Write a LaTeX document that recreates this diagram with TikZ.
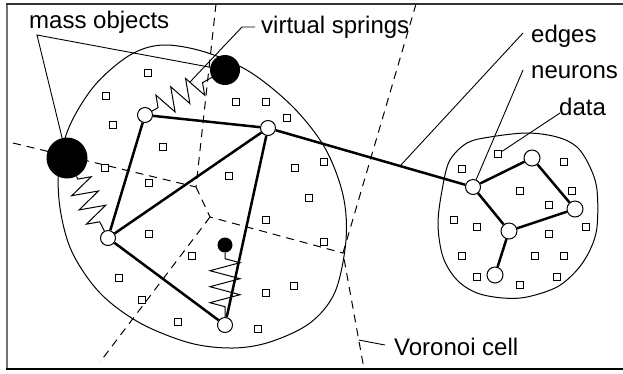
\documentclass[tikz,border=0pt]{standalone}
\usepackage{fontspec}
\setmainfont{Liberation Sans}
\usetikzlibrary{decorations.pathmorphing,calc}
\pgfdeclarelayer{back}
\pgfsetlayers{back,main}
\begin{document}
\begin{tikzpicture}[x=1pt,y=-1pt,
  outline/.style={line width=1pt},
  voronoi/.style={line width=1pt, dash pattern=on 8pt off 6pt},
  datum/.style={draw, line width=0.9pt, fill=white, minimum size=7.5pt, inner sep=0pt},
  neuron/.style={circle, draw, line width=1pt, fill=white, minimum size=15pt, inner sep=0pt},
  mass/.style={circle, fill=black, inner sep=0pt},
  edge/.style={line width=2.5pt},
  leader/.style={line width=0.9pt},
  spring/.style={line width=1pt, decorate, decoration={zigzag, #1}},
  lbl/.style={anchor=base west, inner sep=0pt, font=\fontsize{24}{28}\selectfont}
]
\useasboundingbox (0,0) rectangle (623,373);

% frame (open on the right)
\draw[black!55, line width=2pt] (7,4) -- (7,369);
\draw[black!80, line width=1.4pt] (6,4) -- (623,4);
\draw[line width=1.4pt] (6,369) -- (623,369);

% neurons
\node[neuron] (n1) at (145,115) {};
\node[neuron] (n2) at (268,128) {};
\node[neuron] (n3) at (108,238) {};
\node[neuron] (n4) at (225,325) {};
\node[neuron] (r1) at (473,187) {};
\node[neuron, minimum size=16pt] (r2) at (532,158) {};
\node[neuron, minimum size=16pt] (r3) at (575,209) {};
\node[neuron, minimum size=16pt] (r4) at (509,231) {};
\node[neuron, minimum size=16pt] (r5) at (495,275) {};

% mass objects
\node[mass, minimum size=41pt] (m1) at (67,158) {};
\node[mass, minimum size=30pt] (m2) at (225,70) {};
\node[mass, minimum size=15pt] (m3) at (225,245) {};

% labels
\node[lbl] (tmass) at (29,28) {mass objects};
\node[lbl] (tspring) at (261,33) {virtual springs};
\node[lbl] (tedges) at (531,42) {edges};
\node[lbl] (tneurons) at (531,78) {neurons};
\node[lbl] (tdata) at (559,115) {data};
\node[lbl] (tvoronoi) at (394,355) {Voronoi cell};

% Voronoi vertices and border points
\coordinate (vtop) at (216,4);
\coordinate (vleft) at (13,143);
\coordinate (v1) at (196,187);
\coordinate (v2) at (210,217);
\coordinate (v3) at (343,253);
\coordinate (vbot) at (100,362);
\coordinate (vtopr) at (416,4);
\coordinate (vbotr) at (364,369);

\begin{pgfonlayer}{back}
  % clusters
  \draw[outline] plot[smooth cycle, tension=0.55] coordinates {
    (59,165) (70,125) (95,85) (130,55) (163,45) (205,52) (250,72)
    (293,107) (325,148) (343,195) (346,240) (335,292) (310,323)
    (270,342) (233,348) (190,343) (140,323) (100,293) (72,252) (60,208)};
  \draw[outline] plot[smooth cycle, tension=0.55] coordinates {
    (443,185) (450,160) (467,143) (490,137) (527,133) (557,137)
    (577,147) (590,167) (597,190) (597,227) (590,250) (577,270)
    (557,287) (527,297) (503,298) (477,293) (457,280) (443,257) (438,223)};

  % Voronoi cells
  \draw[voronoi] (vtop) -- (v1);
  \draw[voronoi] (vleft) -- (v1);
  \draw[voronoi] (v1) -- (v2) -- (v3);
  \draw[voronoi] (v2) -- (vbot);
  \draw[voronoi] (vtopr) -- (v3) -- (vbotr);

  % data points
  \foreach \p [count=\i] in {
    (148,73),(106,96),(113,125),(163,147),(105,168),(149,183),(236,102),
    (266,102),(287,118),(229,176),(295,168),(149,234),(192,256),(266,220),
    (309,198),(119,278),(142,300),(178,322),(266,293),(294,286),(258,329),
    (324,162),(324,242),
    (462,169),(564,162),(520,191),(572,191),(549,205),(454,220),
    (477,227),(586,227),(549,234),(462,256),(535,256),(564,256),(477,277),
    (557,277),(520,285)}
    \node[datum] (d\i) at \p {};
  \node[datum] (dref) at (498,154) {};

  % leaders
  \coordinate (lmass) at (37,35);
  \draw[leader] (m1) -- (lmass) -- (m2);
  \coordinate (lspr) at (242,27);
  \coordinate (lsprend) at (255,27);
  \coordinate (lsprtip) at (190,82);
  \draw[leader] (lsprend) -- (lspr) -- (lsprtip);
  \coordinate (ledges) at (523,33);
  \draw[leader] (ledges) -- ($(n2)!0.644!(r1)$);
  \coordinate (lneur) at (523,70);
  \draw[leader] (lneur) -- (r1);
  \coordinate (ldata) at (560,113);
  \draw[leader] (ldata) -- (dref);
  \coordinate (lvor) at (385,345);
  \draw[leader] ($(v3)!0.75!(vbotr)$) -- (lvor);

  % edges of the network
  \draw[edge] (n1) -- (n2);
  \draw[edge] (n1) -- (n3);
  \draw[edge] (n2) -- (n3);
  \draw[edge] (n2) -- (n4);
  \draw[edge] (n3) -- (n4);
  \draw[edge] (n2) -- (r1);
  \draw[edge] (r1) -- (r2);
  \draw[edge] (r2) -- (r3);
  \draw[edge] (r3) -- (r4);
  \draw[edge] (r4) -- (r1);
  \draw[edge] (r4) -- (r5);

  % virtual springs
  \draw[spring={amplitude=12pt, segment length=17pt, pre length=7pt, post length=8pt}] (n1) -- (m2);
  \draw[spring={amplitude=13pt, segment length=16pt, pre length=3pt, post length=8pt}] (m1) -- (n3);
  \draw[spring={amplitude=15pt, segment length=16pt, pre length=6pt, post length=7pt}] (m3) -- (n4);
\end{pgfonlayer}
\end{tikzpicture}
\end{document}
